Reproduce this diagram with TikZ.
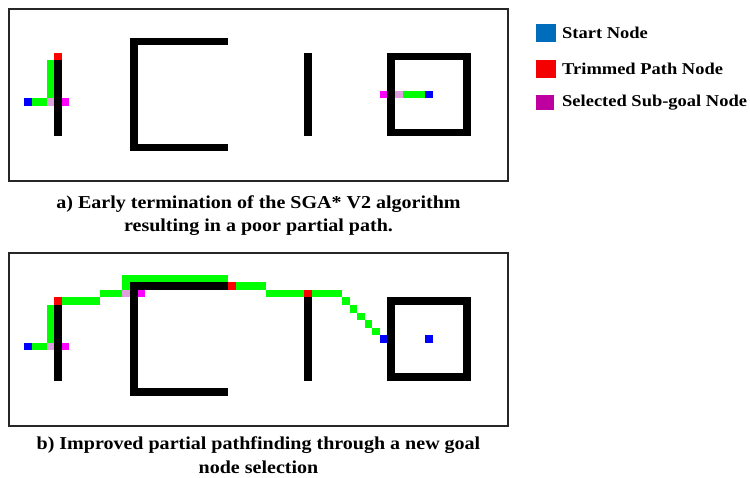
\documentclass[tikz,border=0pt]{standalone}
\usepackage{fontspec}
\setmainfont{Liberation Serif}
\newfontfamily\widefont[FakeStretch=1.1]{Liberation Serif}
\newfontfamily\legfont[FakeStretch=1.12]{Liberation Serif}
\definecolor{pgreen}{RGB}{0,255,0}
\definecolor{pblue}{RGB}{0,0,255}
\definecolor{pred}{RGB}{255,0,0}
\definecolor{pmag}{RGB}{255,0,255}
\definecolor{ppink}{RGB}{221,160,221}
\definecolor{lblue}{RGB}{0,108,188}
\definecolor{lred}{RGB}{245,0,0}
\definecolor{lmag}{RGB}{190,0,160}
\def\cs{7.57}
\def\ox{24}
% fill block of cells: cols #1..#3, rows #2..#4, colour #5
\newcommand{\blk}[5]{\fill[#5] ({\ox+#1*\cs},{\oy+#2*\cs}) rectangle ({\ox+(#3+1)*\cs},{\oy+(#4+1)*\cs});}
\newcommand{\gc}[3]{\blk{#1}{#2}{#1}{#2}{#3}}
\newcommand{\walls}{%
  \blk{4}{-5}{4}{4}{black}
  \blk{14}{-8}{14}{6}{black}
  \blk{14}{-8}{26}{-8}{black}
  \blk{14}{6}{26}{6}{black}
  \blk{37}{-6}{37}{4}{black}
  \blk{48}{-6}{58}{-6}{black}
  \blk{48}{4}{58}{4}{black}
  \blk{48}{-6}{48}{4}{black}
  \blk{58}{-6}{58}{4}{black}
}
\tikzset{
  frame/.style={draw=black!85, line width=1.5pt},
  caption/.style={font=\widefont\fontsize{18.2}{21}\selectfont\bfseries, align=center, inner sep=0pt},
  legtext/.style={font=\legfont\fontsize{16.5}{19}\selectfont\bfseries, anchor=west, inner sep=0pt}
}
\begin{document}
\begin{tikzpicture}[x=1pt,y=-1pt]
\useasboundingbox (0,0) rectangle (750,478);
\fill[white] (0,0) rectangle (750,478);

% ---------- panel a ----------
\def\oy{98.3}
\draw[frame] (9,9) rectangle (508,181);
\blk{3}{-5}{3}{-1}{pgreen}
\blk{1}{0}{2}{0}{pgreen}
\gc{0}{0}{pblue}
\gc{3}{0}{ppink}
\gc{5}{0}{pmag}
\gc{47}{-1}{pmag}
\gc{49}{-1}{ppink}
\blk{50}{-1}{52}{-1}{pgreen}
\gc{53}{-1}{pblue}
\walls
\gc{4}{-6}{pred}

% ---------- panel b ----------
\def\oy{342.8}
\draw[frame] (9,253) rectangle (508,426);
\gc{0}{0}{pblue}
\blk{1}{0}{2}{0}{pgreen}
\gc{3}{0}{ppink}
\gc{5}{0}{pmag}
\blk{3}{-5}{3}{-1}{pgreen}
\blk{5}{-6}{9}{-6}{pgreen}
\blk{10}{-7}{12}{-7}{pgreen}
\gc{13}{-7}{ppink}
\gc{15}{-7}{pmag}
\blk{13}{-9}{13}{-8}{pgreen}
\blk{13}{-9}{26}{-9}{pgreen}
\blk{28}{-8}{31}{-8}{pgreen}
\blk{32}{-7}{36}{-7}{pgreen}
\blk{38}{-7}{41}{-7}{pgreen}
\gc{42}{-6}{pgreen}
\gc{43}{-5}{pgreen}
\gc{44}{-4}{pgreen}
\gc{45}{-3}{pgreen}
\gc{46}{-2}{pgreen}
\gc{47}{-1}{pblue}
\gc{53}{-1}{pblue}
\walls
\gc{4}{-6}{pred}
\gc{27}{-8}{pred}
\gc{37}{-7}{pred}

% ---------- captions ----------
\node[caption] (capa1) at (258.5,204) {a) Early termination of the SGA* V2 algorithm};
\node[caption] (capa2) at (258.5,227) {resulting in a poor partial path.};
\node[caption] (capb1) at (258.5,445) {b) Improved partial pathfinding through a new goal};
\node[caption] (capb2) at (258.5,467) {node selection};

% ---------- legend ----------
\fill[lblue] (536,24) rectangle (556,42);
\fill[lred] (536,60) rectangle (556,78);
\fill[lmag] (536,95) rectangle (554,110);
\node[legtext] (l1) at (562,33) {Start Node};
\node[legtext] (l2) at (562,69) {Trimmed Path Node};
\node[legtext] (l3) at (562,103) {Selected Sub-goal Node};
\end{tikzpicture}
\end{document}
